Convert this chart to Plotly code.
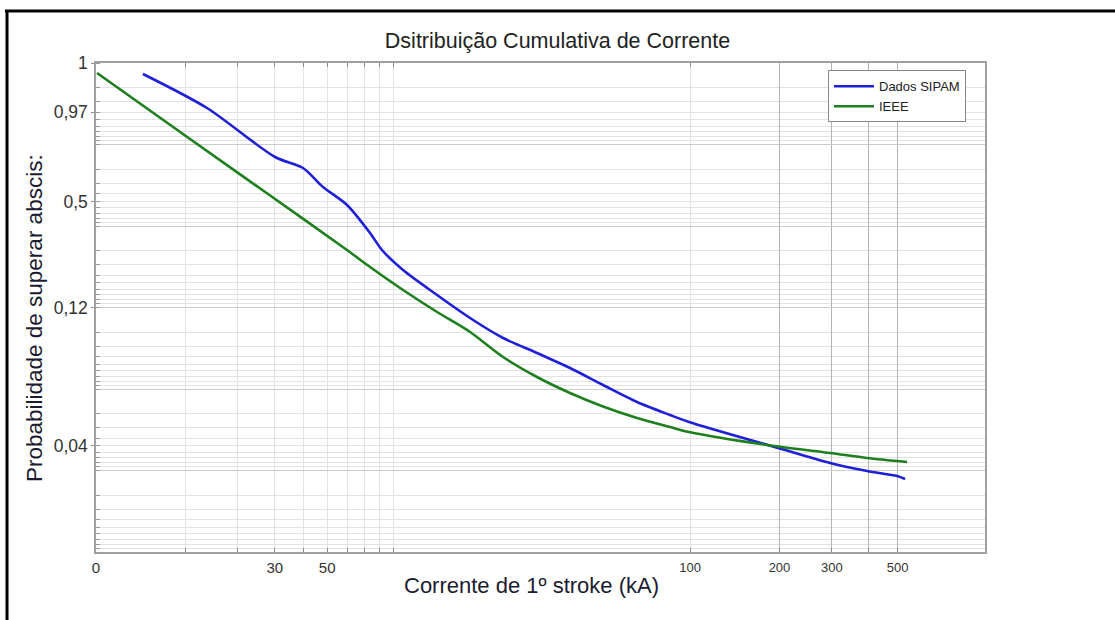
import plotly.graph_objects as go

# ---- data (underlying log-axis coordinates) ----
sipam_x = [1.439, 2.364, 4.006, 4.977, 5.812, 7.00, 8.368, 9.18, 10.81, 14.07, 18.17, 23.47,
           30.53, 39.44, 50.94, 66.30, 85.62, 99.2, 197.8, 296.1, 394.5, 497.7, 529.6]
sipam_y = [1.364, 3.566, 14.23, 19.43, 33.23, 55.25, 121.9, 197.0, 346.7, 702.6, 1345, 2367,
           3616, 5525, 8931, 14440, 20840, 25400, 52960, 80910, 101400, 116800, 127200]

ieee_x = [1.008, 2.073, 3.794, 7.00, 8.368, 10.81, 14.07, 18.17, 23.47, 30.53, 39.44, 50.94,
          66.30, 85.62, 99.2, 181.7, 296.1, 394.5, 537.9]
ieee_y = [1.327, 8.56, 40.5, 197.0, 318.5, 610.1, 1136, 1998, 4049, 7124, 11200, 16400,
          22690, 29270, 33700, 48660, 61000, 70250, 78650]

x_tick_vals_low = [1, 4, 6]
x_tick_text_low = ["0", "30", "50"]
x_tick_vals_high = [100, 200, 300, 500]
x_tick_text_high = ["100", "200", "300", "500"]
y_tick_vals = [1, 4, 50, 1000, 50000]
y_tick_text = ["1", "0,97", "0,5", "0,12", "0,04"]

x_minor_grid = [2, 3, 4, 5, 6, 7, 8, 9, 10, 100]
x_dark_grid = [200, 300, 400, 500]
y_minor_grid = [k * 10 ** d for d in range(6) for k in range(1, 10)] + [10 ** 6]
y_dark_grid = [10, 100, 1000, 10000, 100000]

BLUE = "#1f1fd8"
GREEN = "#1e7f1e"
FONT = "Liberation Sans, Arial, sans-serif"
XR = [0, 2.993]

fig = go.Figure()
fig.add_trace(go.Scatter(x=sipam_x, y=sipam_y, mode="lines", name="Dados SIPAM",
                         line=dict(color=BLUE, width=2.6, shape="spline", smoothing=0.8)))
fig.add_trace(go.Scatter(x=ieee_x, y=ieee_y, mode="lines", name="IEEE",
                         line=dict(color=GREEN, width=2.6, shape="spline", smoothing=0.8)))
# empty helper traces so the overlay axes (dark grid lines / extra labels) are created
fig.add_trace(go.Scatter(x=[], y=[], xaxis="x2", yaxis="y2", showlegend=False, hoverinfo="skip"))
fig.add_trace(go.Scatter(x=[], y=[], xaxis="x3", yaxis="y", showlegend=False, hoverinfo="skip"))

fig.update_layout(
    width=1115, height=620,
    margin=dict(l=96, r=130, t=63, b=68),
    paper_bgcolor="white", plot_bgcolor="white",
    font=dict(family=FONT, color="#333333"),
    title=dict(text="Dsitribuição Cumulativa de Corrente", x=0.500, xanchor="center",
               y=0.934, yanchor="middle", font=dict(size=21.5, color="#222222", family=FONT)),
    showlegend=True,
    legend=dict(x=0.8234, y=0.985, xanchor="left", yanchor="top", bgcolor="white",
                bordercolor="#888888", borderwidth=1, font=dict(size=13, color="#222222"),
                tracegroupgap=0, itemwidth=40),
    xaxis=dict(type="log", range=XR, tickmode="array", tickvals=x_tick_vals_low,
               ticktext=x_tick_text_low, showgrid=False, ticks="inside", ticklen=4,
               tickcolor="#8a8a8a", tickfont=dict(size=15, color="#333333"),
               ticklabelstandoff=1,
               showline=True, linecolor="#a0a0a0", linewidth=1.5, mirror="ticks",
               zeroline=False,
               minor=dict(tickmode="array", tickvals=x_minor_grid, showgrid=True,
                          gridcolor="#e2e2e2", gridwidth=1, ticks="inside", ticklen=4,
                          tickcolor="#8a8a8a")),
    xaxis2=dict(type="log", range=XR, overlaying="x", anchor="y", side="bottom",
                tickmode="array", tickvals=x_dark_grid, showticklabels=False,
                showgrid=True, gridcolor="#b4b4b4", gridwidth=1, ticks="inside",
                ticklen=4, tickcolor="#8a8a8a", showline=False, zeroline=False),
    xaxis3=dict(type="log", range=XR, overlaying="x", anchor="y", side="bottom",
                tickmode="array", tickvals=x_tick_vals_high, ticktext=x_tick_text_high,
                showgrid=False, ticks="", ticklabelstandoff=6,
                tickfont=dict(size=13, color="#333333"), showline=False, zeroline=False),
    yaxis=dict(type="log", range=[6, 0], tickmode="array", tickvals=y_tick_vals,
               ticktext=y_tick_text, showgrid=False, ticks="outside", ticklen=3,
               tickcolor="#8a8a8a", tickfont=dict(size=17.5, color="#333333"),
               showline=True, linecolor="#a0a0a0", linewidth=1.5, mirror=True,
               zeroline=False,
               minor=dict(tickmode="array", tickvals=y_minor_grid, showgrid=True,
                          gridcolor="#e2e2e2", gridwidth=1, ticks="inside", ticklen=4,
                          tickcolor="#9a9a9a")),
    yaxis2=dict(type="log", range=[6, 0], overlaying="y", anchor="x", side="left",
                tickmode="array", tickvals=y_dark_grid, showticklabels=False,
                showgrid=True, gridcolor="#cbcbcb", gridwidth=1, ticks="",
                showline=False, zeroline=False),
    annotations=[
        dict(text="Probabilidade de superar abscis:", xref="paper", yref="paper",
             x=-0.0697, y=0.4785, xanchor="center", yanchor="middle", textangle=-90,
             showarrow=False, font=dict(size=22.5, color="#1c1c30", family=FONT)),
        dict(text="Corrente de 1º stroke (kA)", xref="paper", yref="paper",
             x=0.4904, y=-0.0675, xanchor="center", yanchor="middle",
             showarrow=False, font=dict(size=22, color="#1c1c30", family=FONT)),
    ],
    shapes=[
        dict(type="line", xref="paper", yref="paper", x0=-0.1024, x1=1.1463,
             y0=1.10634, y1=1.10634, line=dict(color="black", width=3)),
        dict(type="line", xref="paper", yref="paper", x0=-0.1001, x1=-0.1001,
             y0=1.10634, y1=-0.15, line=dict(color="black", width=3)),
    ],
)

fig.write_html("out.html")
